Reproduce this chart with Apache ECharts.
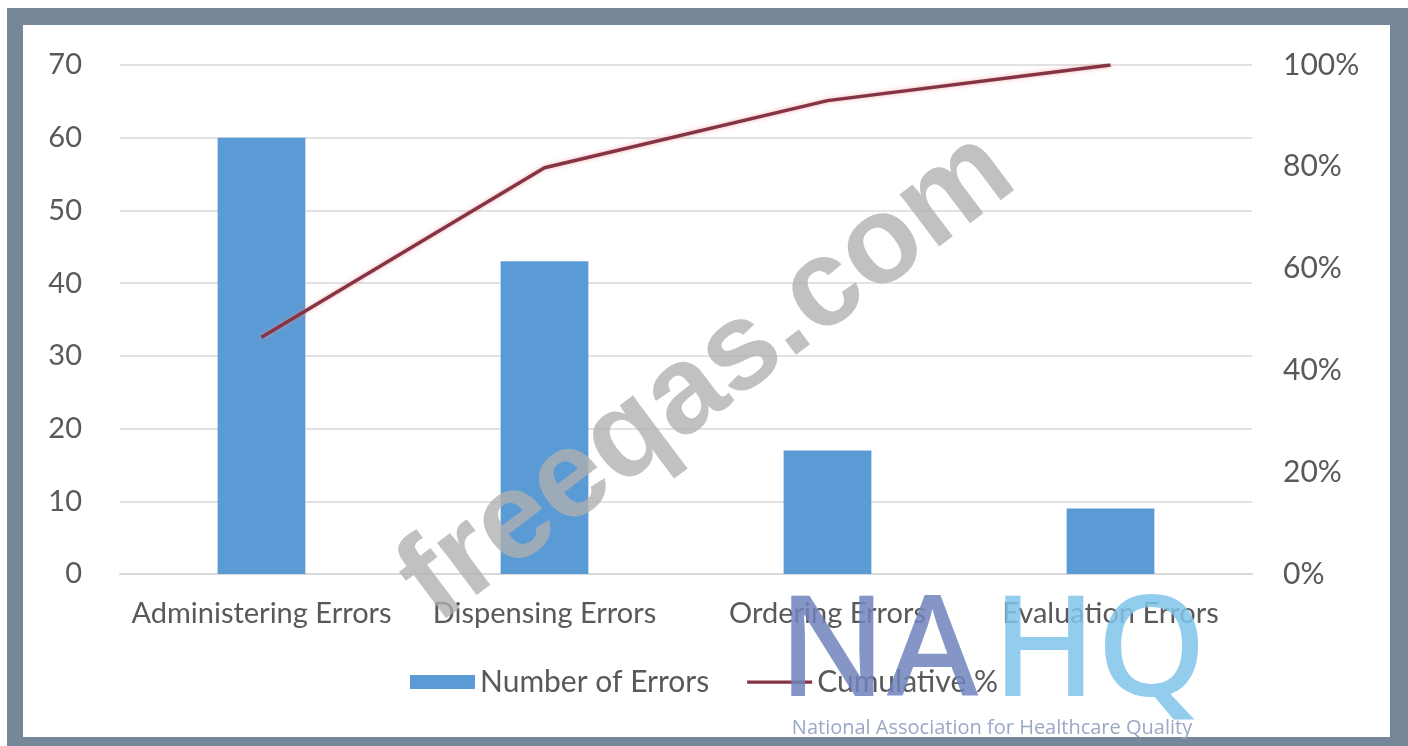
<!DOCTYPE html>
<html>
<head>
<meta charset="utf-8">
<script src="https://cdn.jsdelivr.net/npm/echarts@6/dist/echarts.min.js"></script>
<style>
html,body{margin:0;padding:0;background:#fff;}
#chart{width:1408px;height:746px;}
</style>
</head>
<body>
<div id="chart"></div>
<script>
const categories = ['Administering Errors', 'Dispensing Errors', 'Ordering Errors', 'Evaluation Errors'];
const numberOfErrors = [60, 43, 17, 9];
const cumulativePct = [46.5, 79.8, 93.0, 100];
const leftTicks = {min: 0, max: 70, interval: 10};
const rightTicks = {min: 0, max: 100, interval: 20};

const FONT = 'Lato';
const chart = echarts.init(document.getElementById('chart'), null, {renderer: 'canvas'});
chart.setOption({
  backgroundColor: '#fff',
  animation: false,
  textStyle: {fontFamily: FONT},
  grid: {left: 120, right: 156, top: 65, bottom: 172, containLabel: false},
  graphic: [
    {type: 'rect', z: -10, silent: true, shape: {x: 7, y: 8, width: 1401, height: 738}, style: {fill: '#758799'}},
    {type: 'rect', z: -9, silent: true, shape: {x: 23, y: 25, width: 1367, height: 712}, style: {fill: '#ffffff'}},
    {type: 'text', z: 50, silent: true, x: 708, y: 378, rotation: 37 * Math.PI / 180,
      style: {text: 'freeqas.com', font: 'bold 124px "Liberation Sans", Arial, sans-serif', fill: 'rgba(175,175,175,0.78)', align: 'center', verticalAlign: 'middle'}},
    {type: 'text', z: 51, silent: true, x: 778, y: 656,
      style: {text: 'NA', font: '500 140px "Noto Sans", sans-serif', fill: 'rgba(112,132,188,0.85)', align: 'left', verticalAlign: 'middle'}},
    {type: 'text', z: 51, silent: true, x: 992, y: 656,
      style: {text: 'HQ', font: '500 140px "Noto Sans", sans-serif', fill: 'rgba(128,196,234,0.85)', align: 'left', verticalAlign: 'middle'}},
    {type: 'text', z: 51, silent: true, x: 992, y: 728,
      style: {text: 'National Association for Healthcare Quality', font: '20px "Open Sans", sans-serif', fill: '#9ba7c6', align: 'center', verticalAlign: 'middle'}}
  ],
  legend: {
    bottom: 44,
    left: 'center',
    itemGap: 38,
    itemWidth: 65,
    itemHeight: 14,
    textStyle: {fontFamily: FONT, fontSize: 30, color: '#595959'},
    data: [
      {name: 'Number of Errors', icon: 'rect'},
      {name: 'Cumulative %', icon: 'path://M0,0L100,0L100,5L0,5Z'}
    ]
  },
  xAxis: {
    type: 'category',
    data: categories,
    axisTick: {show: false},
    axisLine: {show: true, lineStyle: {color: '#d9d9d9', width: 2}},
    axisLabel: {fontFamily: FONT, fontSize: 29, color: '#595959', margin: 25, interval: 0}
  },
  yAxis: [
    {
      type: 'value', min: leftTicks.min, max: leftTicks.max, interval: leftTicks.interval,
      axisLine: {show: false}, axisTick: {show: false},
      axisLabel: {fontFamily: FONT, fontSize: 29, color: '#595959', margin: 38},
      splitLine: {show: true, lineStyle: {color: '#e2e2e2', width: 2}}
    },
    {
      type: 'value', min: rightTicks.min, max: rightTicks.max, interval: rightTicks.interval,
      position: 'right',
      axisLine: {show: false}, axisTick: {show: false},
      axisLabel: {fontFamily: FONT, fontSize: 30, color: '#595959', margin: 31, formatter: '{value}%'},
      splitLine: {show: false}
    }
  ],
  series: [
    {
      name: 'Number of Errors', type: 'bar', data: numberOfErrors, yAxisIndex: 0,
      barWidth: '31%',
      itemStyle: {color: '#5b9bd5'}
    },
    {
      name: 'Cumulative %', type: 'line', data: cumulativePct, yAxisIndex: 1,
      symbol: 'none', smooth: false,
      lineStyle: {color: '#843443', width: 3.5, shadowColor: 'rgba(240,140,150,0.7)', shadowBlur: 4},
      itemStyle: {color: '#843443'}
    }
  ]
});
</script>
</body>
</html>
